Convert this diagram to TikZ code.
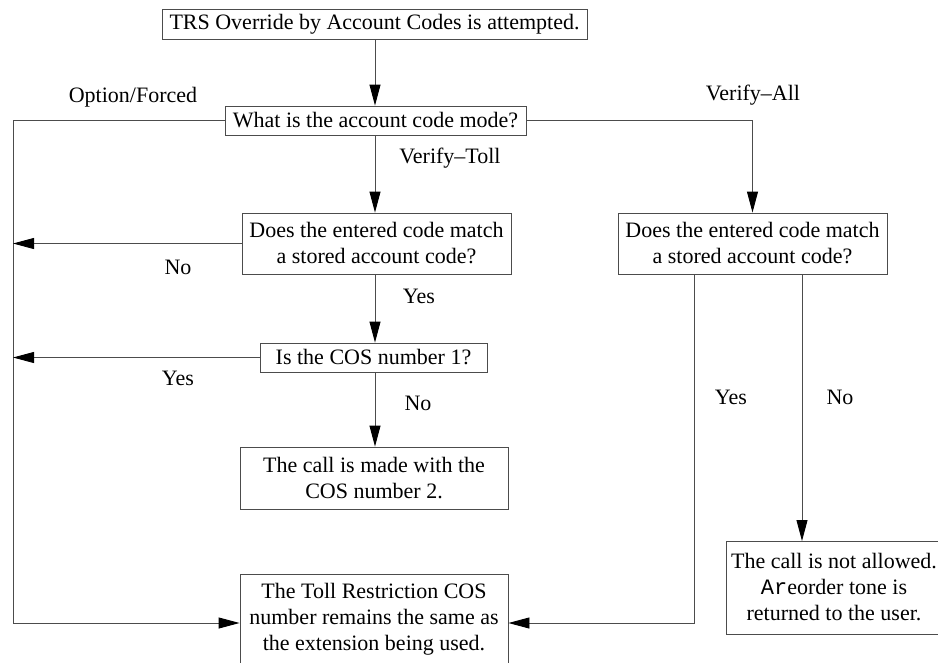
\documentclass[tikz,border=0pt]{standalone}
\usepackage{fontspec}
\setmainfont{Liberation Serif}
\setmonofont{Liberation Mono}
\usetikzlibrary{arrows.meta}
\begin{document}
\begin{tikzpicture}[x=1pt,y=-1pt,
  box/.style={draw=black!70,line width=0.9pt,align=center,inner sep=0pt,
    font=\fontsize{22}{26}\selectfont},
  lbl/.style={font=\fontsize{22}{26}\selectfont,inner sep=0pt},
  conn/.style={draw=black!70,line width=0.9pt},
  arr/.style={conn,-{Triangle[length=21pt,width=11pt,color=black]}}]
\useasboundingbox (0,0) rectangle (938,662);
\node[box,minimum width=425pt,minimum height=30pt] (top) at (374.5,24) {TRS Override by Account Codes is attempted.};
\node[box,minimum width=301pt,minimum height=29pt] (mode) at (375.5,120.5) {What is the account code mode?};
\node[box,minimum width=269pt,minimum height=61pt] (m1) at (376.5,243.5) {Does the entered code match\\a stored account code?};
\node[box,minimum width=269pt,minimum height=61pt] (m2) at (752.5,243.5) {Does the entered code match\\a stored account code?};
\node[box,minimum width=227pt,minimum height=29pt] (cos) at (373.5,357.5) {Is the COS number 1?};
\node[box,minimum width=268pt,minimum height=62pt] (made) at (374,478) {The call is made with the\\COS number 2.};
\node[box,minimum width=268pt,minimum height=90pt] (same) at (374,619) {The Toll Restriction COS\\number remains the same as\\the extension being used.};
\node[box,minimum width=216pt,minimum height=93pt] (na) at (834,587.5) {The call is not allowed.\\\texttt{Ar}eorder tone is\\returned to the user.};

\coordinate (L1) at (13,120.5);
\coordinate (L2) at (13,623);
\coordinate (R1) at (752.5,120.5);
\coordinate (Y1) at (694,274);
\coordinate (Y2) at (694,623);
\coordinate (N1) at (802,274);
\coordinate (N2) at (802,541);

\draw[arr] (top.south -| 375,0) -- (mode.north -| 375,0);
\draw[arr] (mode.west) -- (L1) -- (L2) -- (same.west |- L2);
\draw[arr] (mode.east) -- (R1) -- (m2.north);
\draw[arr] (mode.south -| 375,0) -- (m1.north -| 375,0);
\draw[arr] (m1.west) -- (m1.west -| L1);
\draw[arr] (m1.south -| 375,0) -- (cos.north -| 375,0);
\draw[arr] (cos.west) -- (cos.west -| L1);
\draw[arr] (cos.south -| 375,0) -- (made.north -| 375,0);
\draw[arr] (Y1) -- (Y2) -- (same.east |- Y2);
\draw[arr] (N1) -- (N2);

\node[lbl] (optf) at (133,97) {Option/Forced};
\node[lbl] (vall) at (753,95) {Verify--All};
\node[lbl] (vtoll) at (450,158) {Verify--Toll};
\node[lbl] (no1) at (178,267) {No};
\node[lbl] (yes1) at (419,296) {Yes};
\node[lbl] (yes2) at (178,378) {Yes};
\node[lbl] (no2) at (418,403) {No};
\node[lbl] (yes3) at (731,397) {Yes};
\node[lbl] (no3) at (840,397) {No};
\end{tikzpicture}
\end{document}
